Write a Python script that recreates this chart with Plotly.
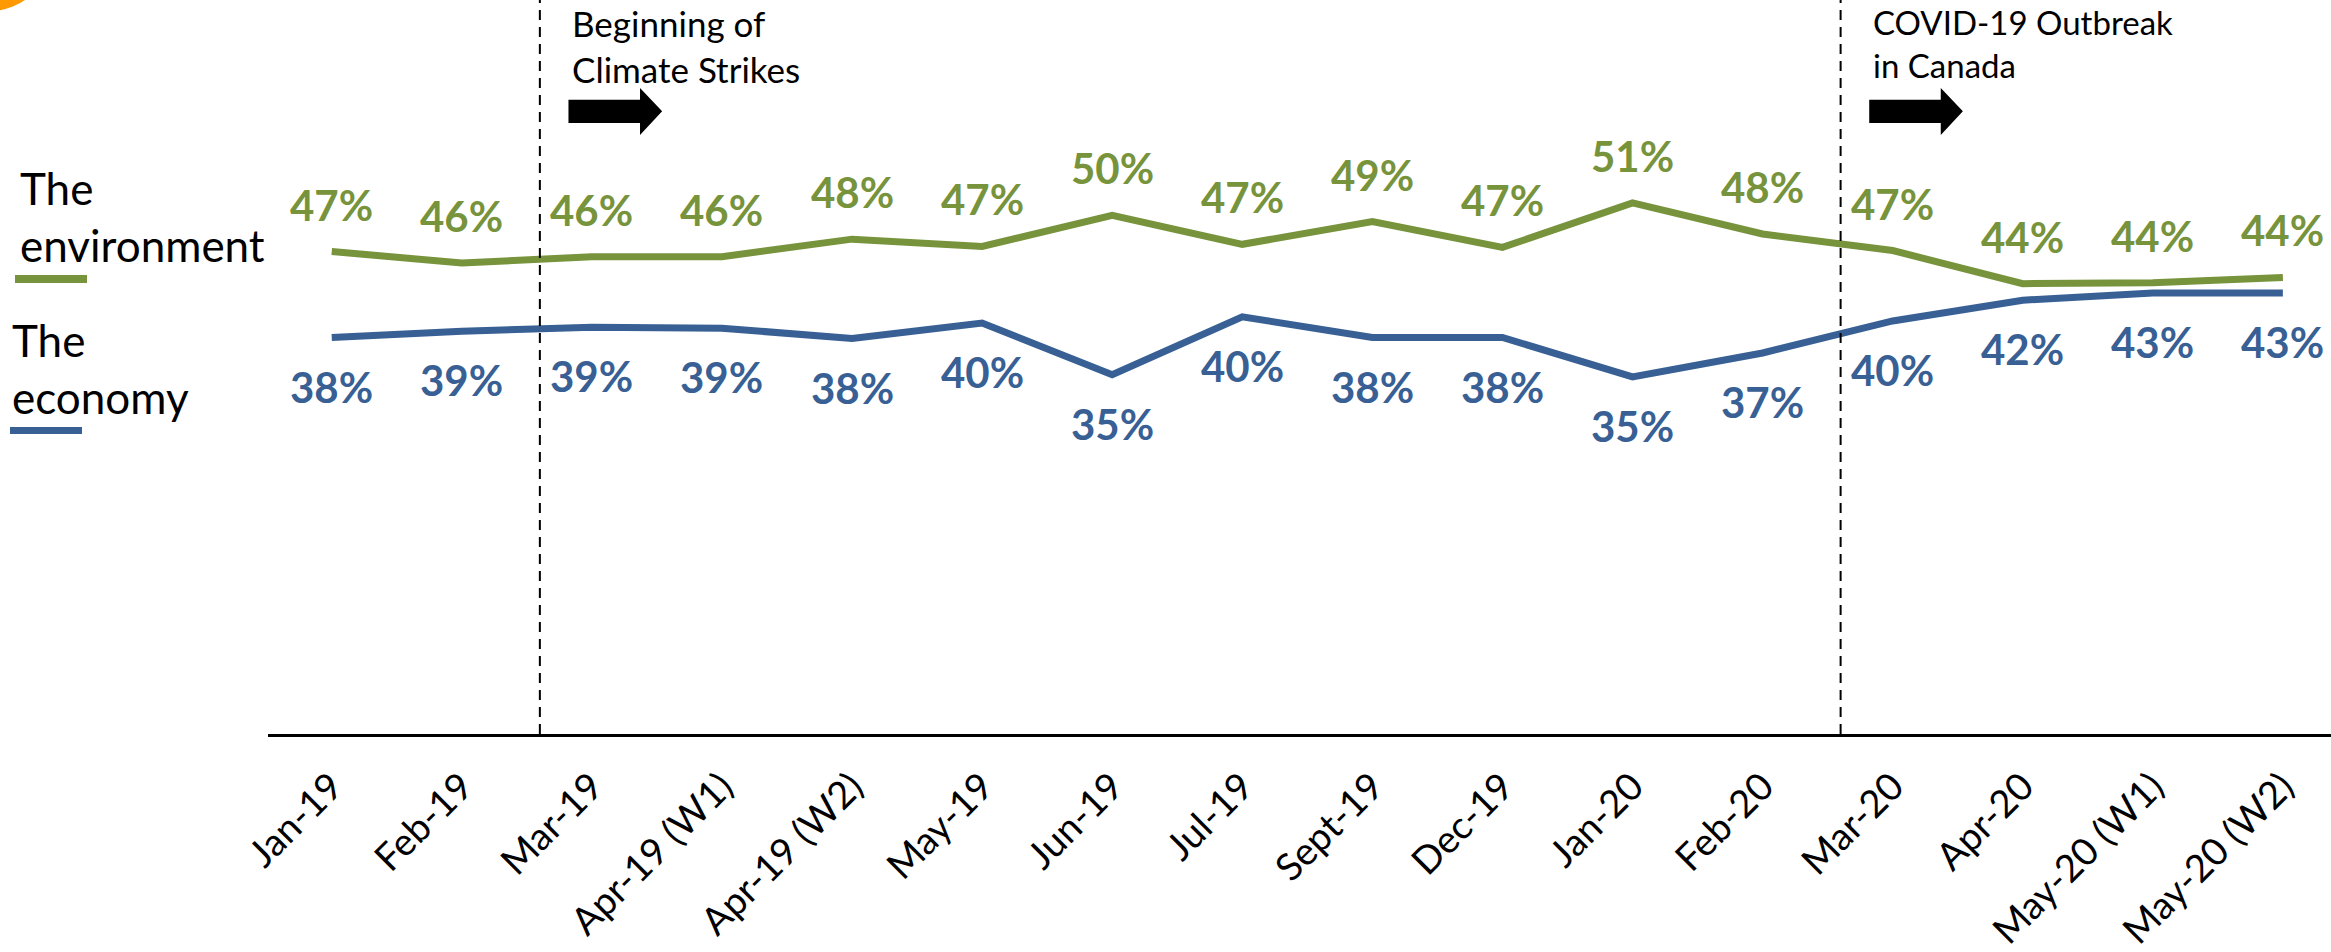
import plotly.graph_objects as go

# ---------------- data ----------------
categories = ["Jan-19", "Feb-19", "Mar-19", "Apr-19 (W1)", "Apr-19 (W2)", "May-19",
              "Jun-19", "Jul-19", "Sept-19", "Dec-19", "Jan-20", "Feb-20", "Mar-20",
              "Apr-20", "May-20 (W1)", "May-20 (W2)"]
environment_values = [46.6, 45.5, 46.1, 46.1, 47.8, 47.1, 50.1, 47.3, 49.5, 47.0,
                      51.3, 48.3, 46.7, 43.5, 43.6, 44.1]
economy_values = [38.3, 38.9, 39.3, 39.2, 38.2, 39.7, 34.7, 40.3, 38.3, 38.3,
                  34.5, 36.8, 39.9, 41.9, 42.6, 42.6]
environment_labels = [47, 46, 46, 46, 48, 47, 50, 47, 49, 47, 51, 48, 47, 44, 44, 44]
economy_labels = [38, 39, 39, 39, 38, 40, 35, 40, 38, 38, 35, 37, 40, 42, 43, 43]
event_positions = [1.6, 11.6]
event_texts = ["Beginning of<br>Climate Strikes", "COVID-19 Outbreak<br>in Canada"]

# ---------------- style ----------------
GREEN = "#77933C"
BLUE = "#386094"
W, H = 2331, 952
ML, MT, MB, MR = 268, 0, 218, 0
PW, PH = W - ML - MR, H - MT - MB
YMAX = 70.9
FONT = "Lato"

x_idx = list(range(len(categories)))

fig = go.Figure()
fig.add_trace(go.Scatter(x=x_idx, y=environment_values, mode="lines",
                         line=dict(color=GREEN, width=7), name="The environment",
                         hoverinfo="skip"))
fig.add_trace(go.Scatter(x=x_idx, y=economy_values, mode="lines",
                         line=dict(color=BLUE, width=7), name="The economy",
                         hoverinfo="skip"))

annotations = []
for i, (v, lab) in enumerate(zip(environment_values, environment_labels)):
    annotations.append(dict(x=i, y=v, xref="x", yref="y", text=f"{lab}%",
                            showarrow=False, yanchor="middle", yshift=47,
                            font=dict(family=FONT, size=42, color=GREEN, weight="bold")))
for i, (v, lab) in enumerate(zip(economy_values, economy_labels)):
    annotations.append(dict(x=i, y=v, xref="x", yref="y", text=f"{lab}%",
                            showarrow=False, yanchor="middle", yshift=-49,
                            font=dict(family=FONT, size=42, color=BLUE, weight="bold")))


def px_to_paper_x(px):
    return (px - ML) / PW


def px_to_paper_y(py):
    return (H - MB - py) / PH


# legend-like labels on the left
annotations.append(dict(x=px_to_paper_x(18), y=px_to_paper_y(160), xref="paper", yref="paper",
                        text="The<br>environment", showarrow=False, xanchor="left", yanchor="top",
                        align="left", font=dict(family=FONT, size=44, color="black")))
annotations.append(dict(x=px_to_paper_x(10), y=px_to_paper_y(312), xref="paper", yref="paper",
                        text="The<br>economy", showarrow=False, xanchor="left", yanchor="top",
                        align="left", font=dict(family=FONT, size=44, color="black")))

shapes = []
shapes.append(dict(type="rect", xref="paper", yref="paper",
                   x0=px_to_paper_x(15), x1=px_to_paper_x(87),
                   y0=px_to_paper_y(283), y1=px_to_paper_y(275),
                   fillcolor=GREEN, line=dict(width=0)))
shapes.append(dict(type="rect", xref="paper", yref="paper",
                   x0=px_to_paper_x(10), x1=px_to_paper_x(82),
                   y0=px_to_paper_y(434), y1=px_to_paper_y(427),
                   fillcolor=BLUE, line=dict(width=0)))

# orange circle fragment in the top-left corner
shapes.append(dict(type="circle", xref="paper", yref="paper",
                   x0=px_to_paper_x(-71), x1=px_to_paper_x(51),
                   y0=px_to_paper_y(11), y1=px_to_paper_y(-111),
                   fillcolor="#FF9900", line=dict(width=0)))

# event markers
text_sizes = [35, 33]
for xe, txt, ts in zip(event_positions, event_texts, text_sizes):
    shapes.append(dict(type="line", xref="x", yref="paper", x0=xe, x1=xe, y0=0, y1=1,
                       line=dict(color="black", width=2, dash="10px,7px")))
    body0, head0, tip = xe + 0.22, xe + 0.77, xe + 0.94
    yb0, yb1, yh0, yh1, ym = 59.03, 61.26, 57.87, 62.4, 60.15
    path = (f"M {body0},{yb0} L {head0},{yb0} L {head0},{yh0} L {tip},{ym} "
            f"L {head0},{yh1} L {head0},{yb1} L {body0},{yb1} Z")
    shapes.append(dict(type="path", xref="x", yref="y", path=path,
                       fillcolor="black", line=dict(width=0)))
    annotations.append(dict(x=xe + 0.23, y=px_to_paper_y(0), xref="x", yref="paper",
                            text=txt, showarrow=False, xanchor="left", yanchor="top",
                            align="left", font=dict(family=FONT, size=ts, color="black")))

fig.update_layout(
    width=W, height=H,
    margin=dict(l=ML, r=MR, t=MT, b=MB, autoexpand=False),
    paper_bgcolor="white", plot_bgcolor="white",
    showlegend=False,
    annotations=annotations, shapes=shapes,
    xaxis=dict(range=[-0.49, 15.37], tickmode="array", tickvals=x_idx, ticktext=categories,
               tickangle=-45, showgrid=False, zeroline=False, showline=True,
               linecolor="black", linewidth=3, ticks="", automargin=False,
               tickfont=dict(family=FONT, size=38, color="black"),
               ticklabelstandoff=12, ticklabelshift=0, ticklabeloverflow="allow"),
    yaxis=dict(range=[0, YMAX], visible=False, showgrid=False, zeroline=False,
               automargin=False),
)

fig.write_html("out.html", config={"displayModeBar": False},
               post_script="document.body.style.margin='0';")
